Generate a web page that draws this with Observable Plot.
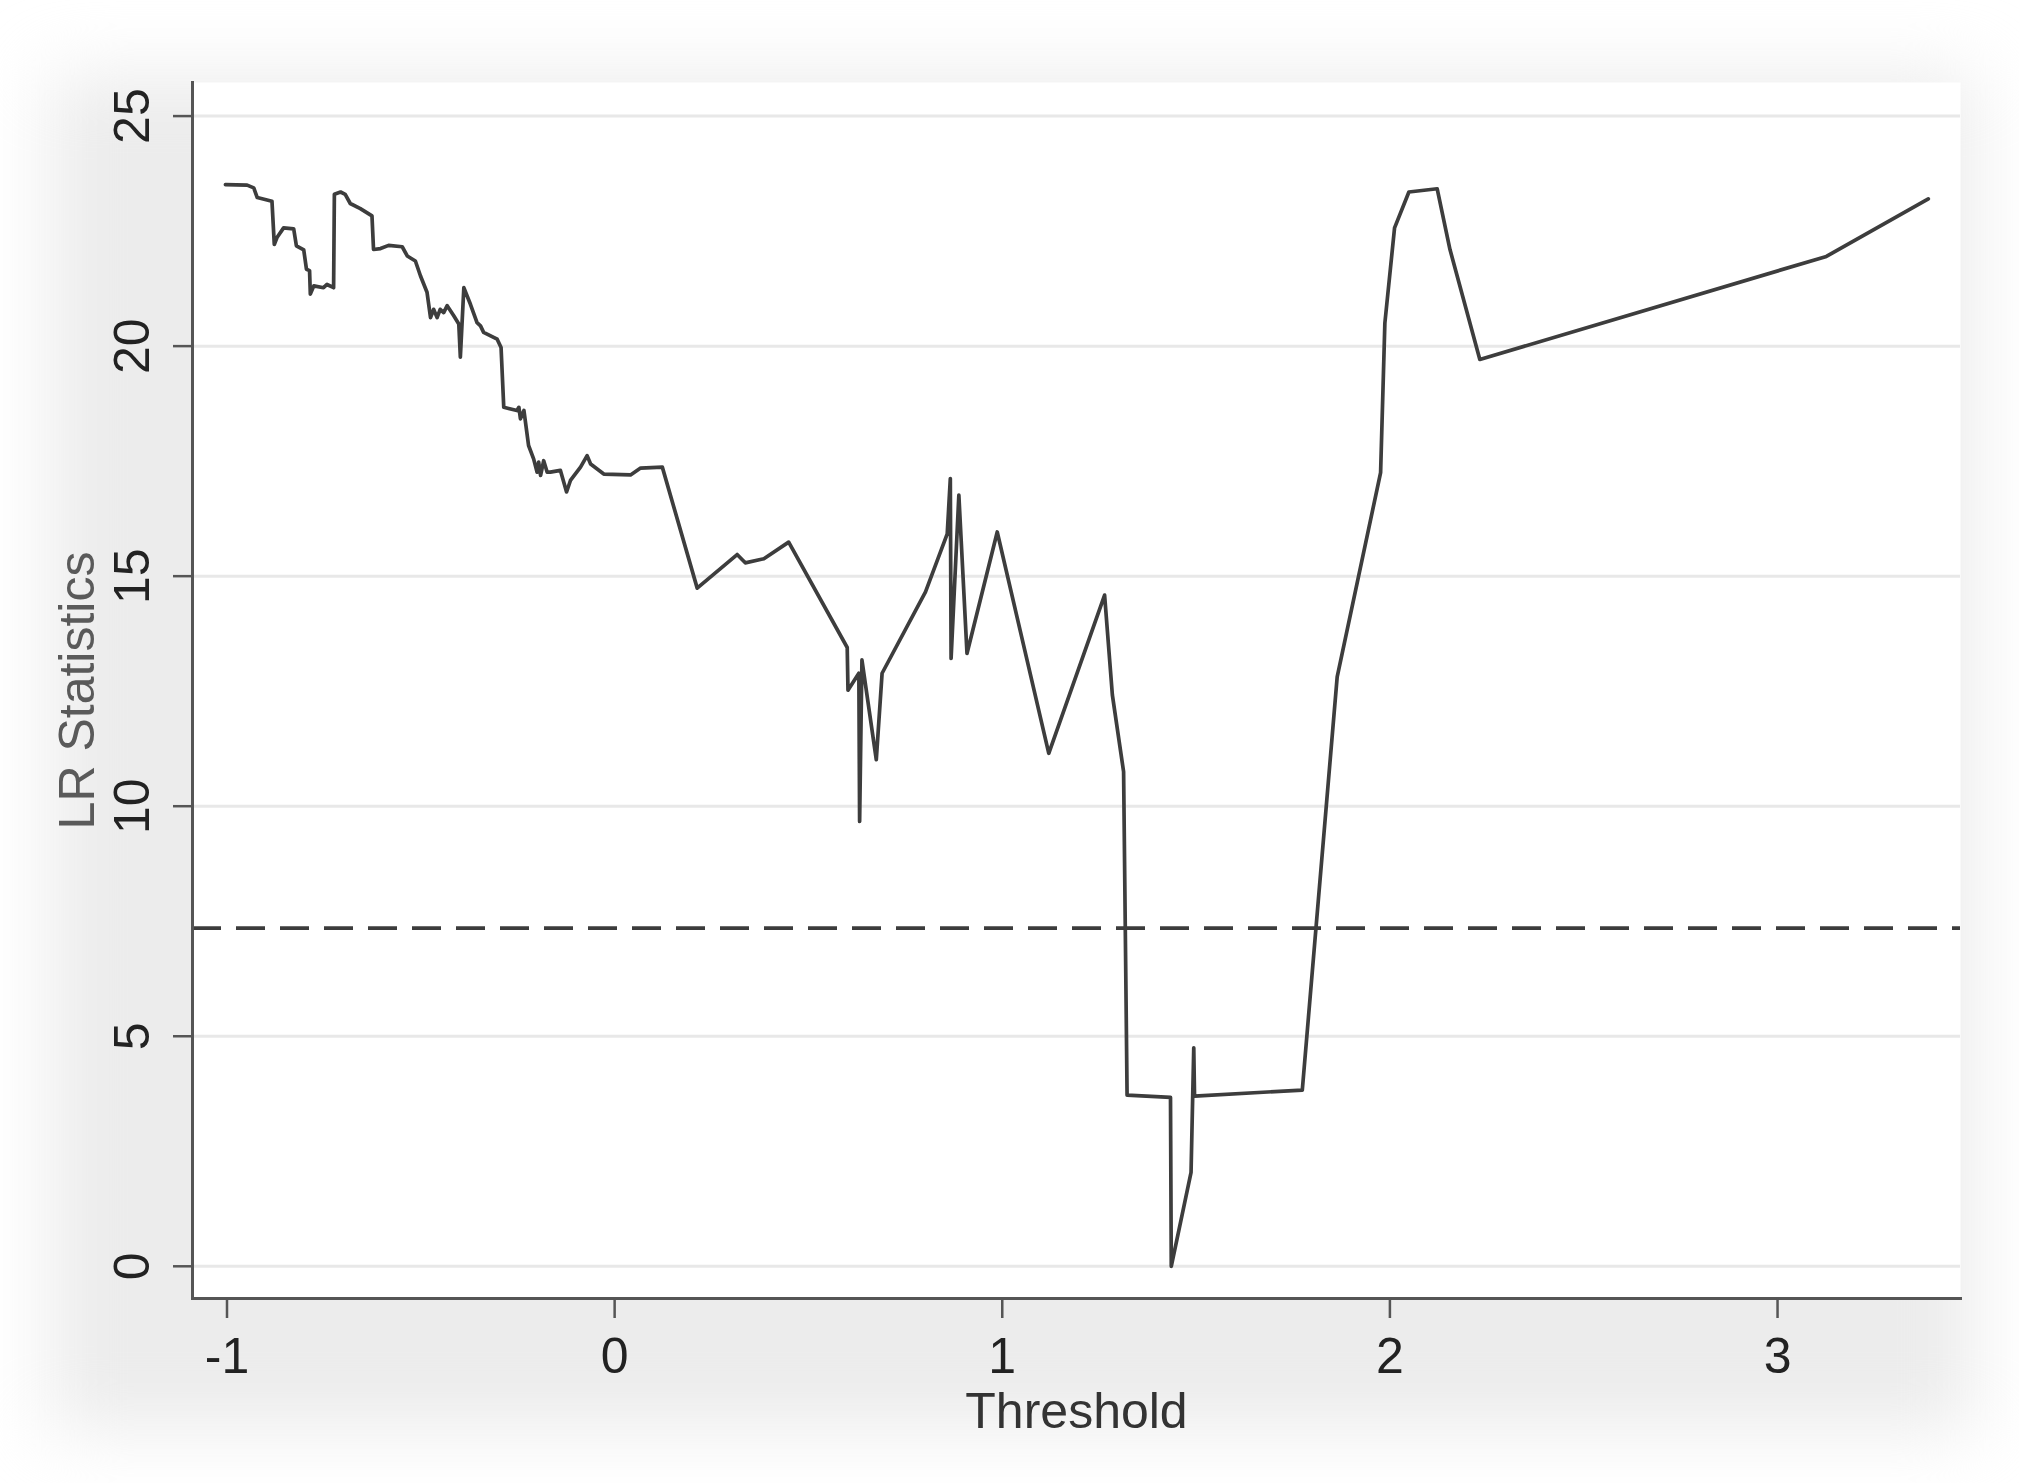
<!DOCTYPE html>
<html><head><meta charset="utf-8">
<script src="https://cdn.jsdelivr.net/npm/d3@7"></script>
<script src="https://cdn.jsdelivr.net/npm/@observablehq/plot@0.6"></script>
<style>
html,body{margin:0;padding:0;background:#fff;width:2019px;height:1483px;overflow:hidden;}
#bg{position:absolute;left:50px;top:75px;width:1925px;height:1355px;background:#ececec;filter:blur(35px);}
#chart{position:absolute;left:0;top:0;}
</style></head><body><div id="bg"></div><div id="chart"></div>
<script>
const thresholds = [
  -1.004, -0.948, -0.931, -0.922, -0.884, -0.878, -0.871, -0.854, -0.828, -0.821,
  -0.802, -0.795, -0.787, -0.785, -0.776, -0.751, -0.742, -0.725, -0.723, -0.707,
  -0.695, -0.682, -0.656, -0.626, -0.622, -0.604, -0.583, -0.548, -0.535, -0.514,
  -0.501, -0.484, -0.475, -0.467, -0.458, -0.450, -0.441, -0.432, -0.415, -0.402,
  -0.398, -0.389, -0.372, -0.355, -0.346, -0.338, -0.303, -0.293, -0.286, -0.252,
  -0.247, -0.243, -0.234, -0.222, -0.209, -0.200, -0.196, -0.191, -0.183, -0.174,
  -0.166, -0.140, -0.124, -0.114, -0.088, -0.071, -0.062, -0.028, 0.041, 0.067,
  0.123, 0.213, 0.316, 0.337, 0.385, 0.449, 0.600, 0.602, 0.630, 0.632,
  0.638, 0.675, 0.690, 0.802, 0.858, 0.866, 0.868, 0.888, 0.909, 0.987,
  1.120, 1.264, 1.284, 1.313, 1.322, 1.434, 1.436, 1.487, 1.494, 1.496,
  1.774, 1.864, 1.976, 1.987, 2.012, 2.049, 2.122, 2.155, 2.232, 3.126,
  3.389
];
const lrStats = [
  23.51, 23.50, 23.44, 23.23, 23.15, 22.21, 22.36, 22.57, 22.55, 22.18,
  22.09, 21.67, 21.64, 21.13, 21.31, 21.27, 21.34, 21.27, 23.30, 23.35,
  23.30, 23.10, 22.99, 22.83, 22.10, 22.12, 22.19, 22.16, 21.96, 21.85,
  21.53, 21.17, 20.62, 20.80, 20.62, 20.80, 20.73, 20.88, 20.66, 20.48,
  19.76, 21.27, 20.91, 20.51, 20.44, 20.30, 20.15, 19.97, 18.67, 18.60,
  18.67, 18.42, 18.60, 17.84, 17.55, 17.26, 17.48, 17.19, 17.51, 17.26,
  17.26, 17.30, 16.83, 17.08, 17.37, 17.62, 17.44, 17.22, 17.20, 17.35,
  17.37, 14.74, 15.47, 15.29, 15.38, 15.74, 13.45, 12.52, 12.89, 9.67,
  13.18, 11.01, 12.89, 14.66, 15.92, 17.12, 13.21, 16.76, 13.32, 15.96,
  11.15, 14.59, 12.42, 10.75, 3.72, 3.67, 0.00, 2.04, 4.75, 3.70,
  3.83, 12.81, 17.25, 20.50, 22.57, 23.35, 23.42, 22.10, 19.71, 21.95,
  23.20
];
const xTicks = [-1, 0, 1, 2, 3];
const yTicks = [0, 5, 10, 15, 20, 25];
const criticalValue = [7.35];
const xLabel = ["Threshold"];
const yLabel = ["LR Statistics"];

const data = thresholds.map((t, i) => ({threshold: t, lr: lrStats[i]}));
const font = "'Liberation Sans', Arial, Helvetica, sans-serif";

const chart = Plot.plot({
  width: 2019,
  height: 1483,
  marginLeft: 192,
  marginRight: 59,
  marginTop: 82,
  marginBottom: 185,
  style: {background: "transparent", fontFamily: font, overflow: "visible"},
  x: {domain: [-1.089, 3.472], label: null},
  y: {domain: [-0.70, 25.73], label: null},
  marks: [
    Plot.frame({fill: "white", stroke: null}),
    Plot.gridY(yTicks, {stroke: "#e8e8e8", strokeOpacity: 1, strokeWidth: 3}),
    Plot.ruleY(criticalValue, {stroke: "#3c3c3c", strokeWidth: 3.6, strokeDasharray: "29 15"}),
    Plot.line(data, {x: "threshold", y: "lr", stroke: "#3d3d3d", strokeWidth: 3.7}),
    Plot.frame({anchor: "left", stroke: "#555", strokeWidth: 3}),
    Plot.frame({anchor: "bottom", stroke: "#555", strokeWidth: 3}),
    Plot.axisY(yTicks, {tickSize: 19, stroke: "#555", strokeWidth: 2.5, tickFormat: () => "", label: null}),
    Plot.text(yTicks, {y: d => d, text: d => String(d), frameAnchor: "left", dx: -60, rotate: -90,
      textAnchor: "middle", lineAnchor: "middle", fontSize: 50, fill: "#222"}),
    Plot.axisX(xTicks, {tickSize: 20, tickPadding: 19, stroke: "#555", strokeWidth: 2.5, fill: "#222",
      fontSize: 50, label: null, tickFormat: d => String(d)}),
    Plot.text(xLabel, {text: d => d, frameAnchor: "bottom", dy: 94, lineAnchor: "top", fontSize: 50, fill: "#333"}),
    Plot.text(yLabel, {text: d => d, frameAnchor: "left", dx: -115, rotate: -90, textAnchor: "middle",
      lineAnchor: "middle", fontSize: 50, fill: "#5a5a5a"})
  ]
});
document.getElementById("chart").appendChild(chart);
</script>
</body></html>
